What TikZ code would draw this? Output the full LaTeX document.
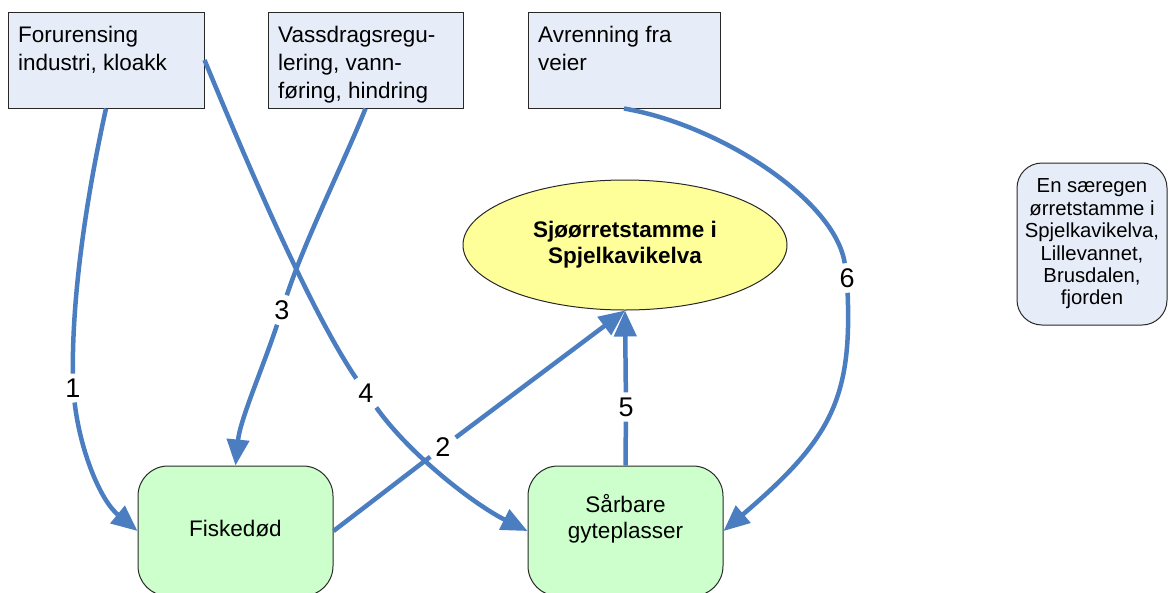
\documentclass[tikz,border=0pt]{standalone}
\usepackage{fontspec}
\setmainfont{Liberation Sans}
\usetikzlibrary{shapes.geometric,arrows.meta}
\definecolor{arrowblue}{RGB}{74,126,193}
\definecolor{boxblue}{RGB}{231,237,248}
\definecolor{boxgreen}{RGB}{204,255,204}
\definecolor{ellyellow}{RGB}{255,255,153}
\definecolor{edgegray}{RGB}{40,40,40}
\begin{document}
\begin{tikzpicture}[x=1pt,y=-1pt,
  topbox/.style={draw=edgegray, line width=1pt, fill=boxblue, minimum height=96pt, inner sep=0pt},
  toptext/.style={anchor=north west, align=left, inner sep=0pt, font=\fontsize{22.5}{28}\selectfont},
  greenbox/.style={draw=edgegray, line width=1pt, fill=boxgreen, rounded corners=30pt, minimum width=195pt, minimum height=130pt, inner sep=0pt},
  boxtext/.style={align=center, inner sep=0pt, font=\fontsize{22.5}{26}\selectfont},
  ellnode/.style={ellipse, draw=edgegray, line width=1pt, fill=ellyellow, minimum width=324pt, minimum height=130pt, inner sep=0pt, align=center, font=\bfseries\fontsize{22.5}{26}\selectfont},
  sidebox/.style={draw=edgegray, line width=1pt, fill=boxblue, rounded corners=25pt, minimum width=150pt, minimum height=162pt, inner sep=0pt, align=center, font=\fontsize{20.3}{22.4}\selectfont},
  num/.style={inner sep=5pt, font=\fontsize{27}{30}\selectfont},
  conn/.style={draw=arrowblue, line width=4.5pt, -{Triangle[length=26pt,width=22pt]}}
]
\useasboundingbox (0,0) rectangle (1169,592);

% top boxes
\node[topbox, minimum width=196pt] (b1) at (106,60) {};
\node[topbox, minimum width=195pt] (b2) at (365.5,60) {};
\node[topbox, minimum width=192pt] (b3) at (624,60) {};
\node[toptext] (t1) at (18,26) {Forurensing\\industri, kloakk};
\node[toptext] (t2) at (278,26) {Vassdragsregu-\\lering, vann-\\føring, hindring};
\node[toptext] (t3) at (538,26) {Avrenning fra\\veier};

% central ellipse
\node[ellnode] (ell) at (625,245) {Sjøørretstamme i\\Spjelkavikelva};

% side box
\node[sidebox] (side) at (1092,244) {En særegen\\ørretstamme i\\Spjelkavikelva,\\Lillevannet,\\Brusdalen,\\fjorden};

% green boxes
\node[greenbox] (fisk) at (235.5,531) {};
\node[boxtext] (fiskt) at (235.5,529) {Fiskedød};
\node[greenbox] (sar) at (625.5,531) {};
\node[boxtext] (sart) at (625.5,519) {Sårbare\\gyteplasser};

% labels
\node[num] (l1) at (73,388) {1};
\node[num] (l2) at (443,447) {2};
\node[num] (l3) at (282,310) {3};
\node[num] (l4) at (366,393) {4};
\node[num] (l5) at (626,407) {5};
\node[num] (l6) at (847,278) {6};

% connectors
\draw[conn] (b1.south) .. controls (88,190) and (72,290) .. (l1)
            .. controls (80,450) and (100,500) .. (fisk.west);
\draw[conn] (fisk.east) -- (l2) -- (ell.south);
\draw[conn] (b2.south) .. controls (345,160) and (305,240) .. (l3)
            .. controls (262,370) and (240,420) .. (fisk.north);
\draw[conn] (b1.east) .. controls (250,170) and (310,310) .. (l4)
            .. controls (410,455) and (475,505) .. (sar.west);
\draw[conn] (sar.north) -- (l5) -- (ell.south);
\draw[conn] (b3.south) .. controls (720,125) and (835,200) .. (l6)
            .. controls (852,400) and (830,440) .. (sar.east);
\end{tikzpicture}
\end{document}
